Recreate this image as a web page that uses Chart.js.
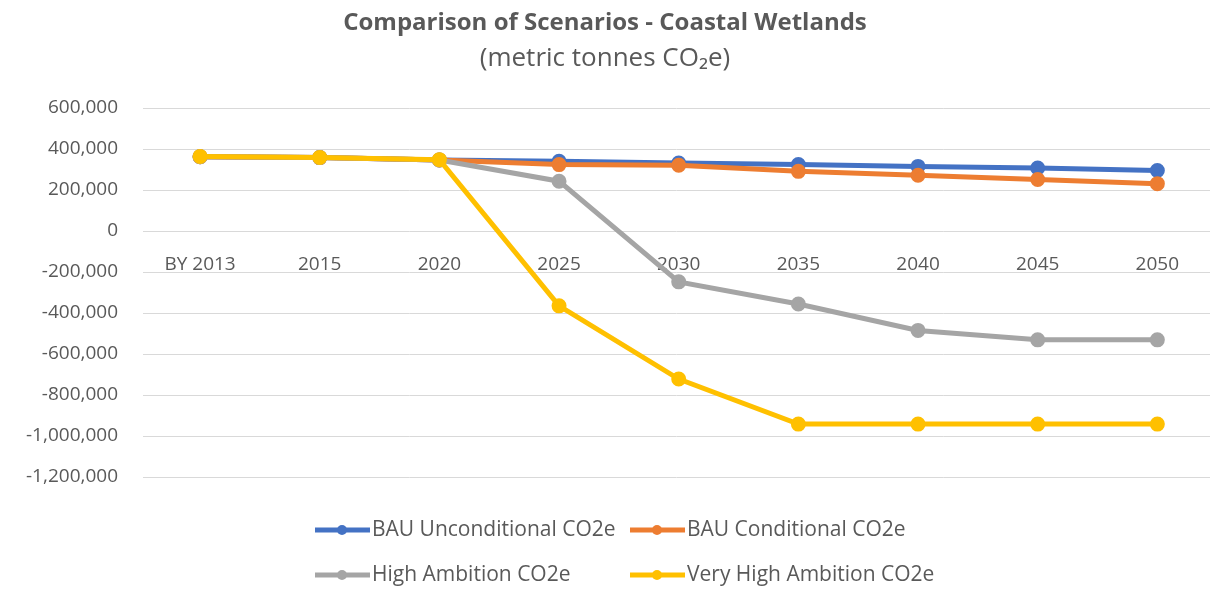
<!DOCTYPE html>
<html>
<head>
<meta charset="utf-8">
<script src="https://cdn.jsdelivr.net/npm/chart.js@4"></script>
<style>
  html, body { margin: 0; padding: 0; background: #fff; overflow: hidden; }
</style>
</head>
<body>
<canvas id="scenarioChart" width="1210" height="590"></canvas>
<script>
const years = ['BY 2013', '2015', '2020', '2025', '2030', '2035', '2040', '2045', '2050'];
const bauUnconditional = [362000, 358000, 346000, 340000, 332000, 324000, 315000, 307000, 295000];
const bauConditional = [362000, 358000, 346000, 324000, 321000, 291000, 272000, 251000, 231000];
const highAmbition = [362000, 358000, 346000, 243000, -248000, -356000, -485000, -531000, -531000];
const veryHighAmbition = [364000, 359000, 348000, -365000, -722000, -942000, -942000, -942000, -942000];
const yTicks = [600000, 400000, 200000, 0, -200000, -400000, -600000, -800000, -1000000, -1200000];

const FONT = '"Open Sans", sans-serif';
const TEXT = '#595959';

function points(values) {
    return values.map((v, i) => ({ x: i, y: v }));
}

function series(label, values, color, order) {
    return {
        label: label,
        data: points(values),
        borderColor: color,
        backgroundColor: color,
        borderWidth: 5,
        pointRadius: 5,
        pointHoverRadius: 5,
        tension: 0,
        order: order
    };
}

// legend in two fixed columns, like the original
const gridLegend = {
    id: 'gridLegend',
    afterDraw(chart) {
        const ctx = chart.ctx;
        const cols = [315, 630];
        const rows = [530, 575];
        ctx.save();
        ctx.font = '21px ' + FONT;
        ctx.textBaseline = 'middle';
        chart.data.datasets.forEach((ds, i) => {
            const x = cols[i % 2];
            const y = rows[Math.floor(i / 2)];
            ctx.strokeStyle = ds.borderColor;
            ctx.lineWidth = 5;
            ctx.beginPath();
            ctx.moveTo(x, y);
            ctx.lineTo(x + 55, y);
            ctx.stroke();
            ctx.fillStyle = ds.borderColor;
            ctx.beginPath();
            ctx.arc(x + 27, y, 5, 0, Math.PI * 2);
            ctx.fill();
            ctx.fillStyle = TEXT;
            ctx.fillText(ds.label, x + 57, y);
        });
        ctx.restore();
    }
};

new Chart(document.getElementById('scenarioChart'), {
    type: 'line',
    data: {
        datasets: [
            series('BAU Unconditional CO2e', bauUnconditional, '#4472C4', 3),
            series('BAU Conditional CO2e', bauConditional, '#ED7D31', 2),
            series('High Ambition CO2e', highAmbition, '#A5A5A5', 1),
            series('Very High Ambition CO2e', veryHighAmbition, '#FFC000', 0)
        ]
    },
    options: {
        responsive: false,
        animation: false,
        layout: { autoPadding: false, padding: { left: 0, right: 0, top: 0, bottom: 113 } },
        scales: {
            x: {
                type: 'linear',
                position: { y: 0 },
                min: -0.477,
                max: 8.44,
                afterFit: (scale) => { scale.paddingLeft = 0; scale.paddingRight = 0; },
                grid: { display: false },
                border: { display: false },
                ticks: {
                    stepSize: 1,
                    includeBounds: false,
                    autoSkip: false,
                    maxRotation: 0,
                    padding: 14,
                    color: TEXT,
                    font: { family: FONT, size: 19 },
                    callback: (v) => (Number.isInteger(v) && years[v] !== undefined) ? years[v] : ''
                }
            },
            y: {
                min: -1200000,
                max: 600000,
                afterBuildTicks: (scale) => { scale.ticks = yTicks.map(v => ({ value: v })); },
                afterFit: (scale) => { scale.width = 143; },
                grid: { color: '#d9d9d9', lineWidth: 1, drawTicks: false },
                border: { display: false },
                ticks: {
                    padding: 25,
                    color: TEXT,
                    font: { family: FONT, size: 19 },
                    callback: (v) => v.toLocaleString('en-US')
                }
            }
        },
        plugins: {
            legend: { display: false },
            tooltip: { enabled: false },
            title: {
                display: true,
                text: 'Comparison of Scenarios - Coastal Wetlands',
                color: TEXT,
                font: { family: FONT, size: 24, weight: 'bold' },
                padding: { top: 9, bottom: 5 }
            },
            subtitle: {
                display: true,
                text: '(metric tonnes CO\u2082e)',
                color: TEXT,
                font: { family: FONT, size: 26 },
                padding: { top: 0, bottom: 34 }
            }
        }
    },
    plugins: [gridLegend]
});
</script>
</body>
</html>
